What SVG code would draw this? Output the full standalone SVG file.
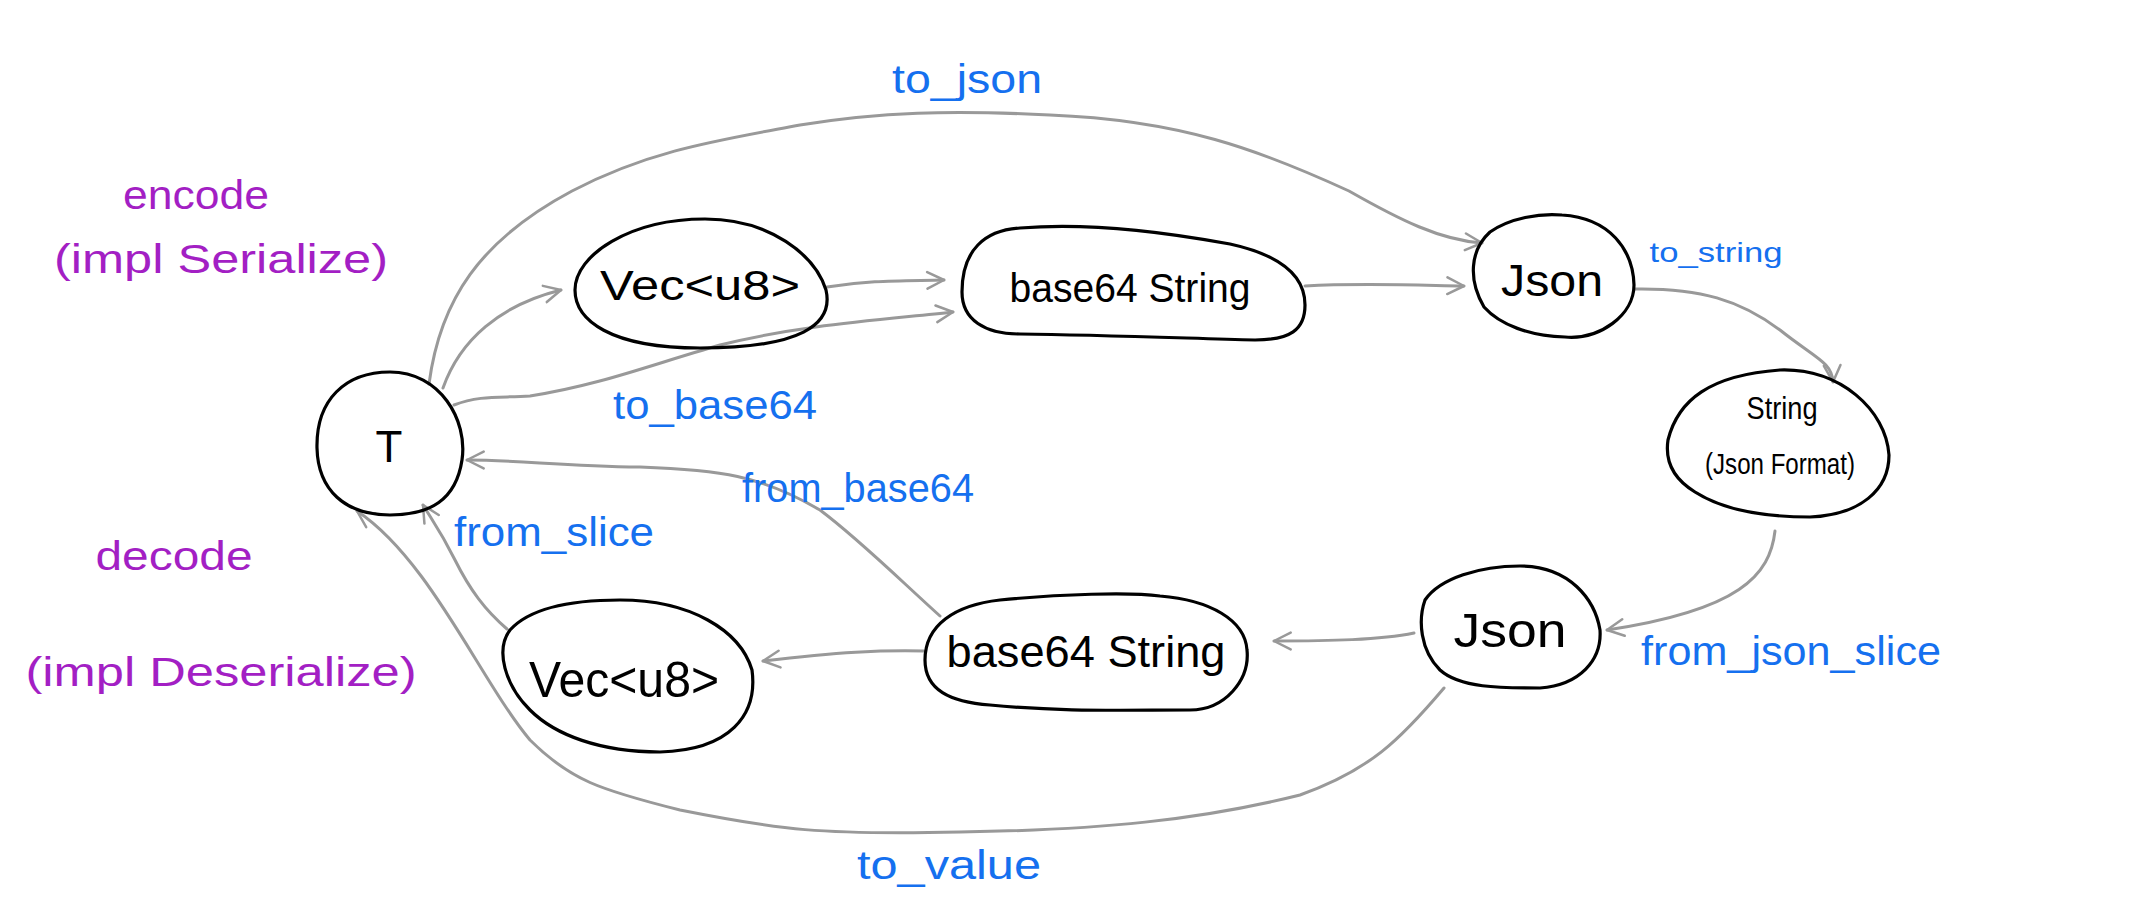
<svg xmlns="http://www.w3.org/2000/svg" width="2136" height="924" viewBox="0 0 2136 924">
<style>
.node{fill:none;stroke:#000;stroke-width:3.2;stroke-linejoin:round}
.nt{font-family:"Liberation Sans",Arial,sans-serif;fill:#000;text-anchor:middle;dominant-baseline:central}
.edge{fill:none;stroke:#999;stroke-width:3;stroke-linecap:round;marker-end:url(#arr)}
.lb{font-family:"Liberation Sans",Arial,sans-serif;fill:#1570ef;text-anchor:middle;dominant-baseline:central}
.pl{font-family:"Liberation Sans",Arial,sans-serif;fill:#a31fc4;text-anchor:middle;dominant-baseline:central}
</style>
<defs>
<marker id="arr" viewBox="0 0 12 12" refX="11" refY="6" markerWidth="20" markerHeight="20" markerUnits="userSpaceOnUse" orient="auto">
<path d="M1,1 L11,6 L1,11" fill="none" stroke="#999" stroke-width="1.5" stroke-linecap="round" stroke-linejoin="round"/>
</marker>
</defs>
<rect width="2136" height="924" fill="#fff"/>

<g id="labels-side">
<text class="pl" x="196" y="195" font-size="40" textLength="146" lengthAdjust="spacingAndGlyphs">encode</text>
<text class="pl" x="221" y="259" font-size="40" textLength="334" lengthAdjust="spacingAndGlyphs">(impl Serialize)</text>
<text class="pl" x="174" y="556" font-size="40" textLength="157" lengthAdjust="spacingAndGlyphs">decode</text>
<text class="pl" x="221" y="672" font-size="40" textLength="391" lengthAdjust="spacingAndGlyphs">(impl Deserialize)</text>
</g>

<g id="connectors">
<path class="edge" d="M429,384 C440,300 480,240 572,191 C650,150 720,140 800,125 C880,112 950,110 1050,115 C1180,120 1260,150 1349,191 C1400,220 1440,240 1482,243"/>
<path class="edge" d="M443,388 C460,340 500,305 561,290"/>
<path class="edge" d="M454,405 C480,395 500,398 530,396 C600,385 650,365 720,345 C800,325 880,320 953,312"/>
<path class="edge" d="M827,287 C870,280 900,281 944,280"/>
<path class="edge" d="M1305,286 C1360,283 1410,285 1464,286"/>
<path class="edge" d="M1635,289 C1700,288 1740,300 1780,330 C1815,358 1832,362 1833,382"/>
<path class="edge" d="M1775,531 C1770,575 1740,610 1607,630"/>
<path class="edge" d="M1414,633 C1380,640 1330,641 1274,641"/>
<path class="edge" d="M924,651 C880,650 840,652 763,661"/>
<path class="edge" d="M940,616 C900,580 860,540 820,510 C760,475 720,470 640,467 C560,466 520,460 467,460"/>
<path class="edge" d="M507,629 C485,610 470,590 455,560 C440,530 432,520 423,505"/>
<path class="edge" d="M1444,688 C1400,740 1370,770 1300,795 C1200,820 1100,830 960,832 C820,835 780,830 680,810 C600,790 570,780 530,740 C480,680 430,560 357,511"/>
</g>

<g id="edge-labels">
<text class="lb" x="967" y="79" font-size="40" textLength="150" lengthAdjust="spacingAndGlyphs">to_json</text>
<text class="lb" x="715" y="405" font-size="40" textLength="204" lengthAdjust="spacingAndGlyphs">to_base64</text>
<text class="lb" x="1716" y="252" font-size="28" textLength="133" lengthAdjust="spacingAndGlyphs">to_string</text>
<text class="lb" x="858" y="488" font-size="40" textLength="232" lengthAdjust="spacingAndGlyphs">from_base64</text>
<text class="lb" x="554" y="532" font-size="40" textLength="200" lengthAdjust="spacingAndGlyphs">from_slice</text>
<text class="lb" x="1791" y="651" font-size="40" textLength="300" lengthAdjust="spacingAndGlyphs">from_json_slice</text>
<text class="lb" x="949" y="865" font-size="40" textLength="184" lengthAdjust="spacingAndGlyphs">to_value</text>
</g>

<g id="node-T">
<path class="node" d="M390,372 C440,372 468,420 462,460 C456,500 430,515 390,515 C345,515 318,490 317,448 C316,400 345,372 390,372 Z"/>
<text class="nt" x="389" y="446" font-size="44">T</text>
</g>

<g id="node-vec-top">
<path class="node" d="M705,219 C770,219 815,255 826,290 C834,325 800,348 700,348 C610,348 575,320 575,290 C575,255 630,219 705,219 Z"/>
<text class="nt" x="700" y="285" font-size="42" textLength="200" lengthAdjust="spacingAndGlyphs">Vec&lt;u8&gt;</text>
</g>

<g id="node-b64-top">
<path class="node" d="M1020,228 C1100,222 1180,235 1230,244 C1280,255 1305,275 1305,305 C1305,330 1290,340 1255,340 C1180,338 1100,335 1020,334 C985,334 962,320 962,292 C962,250 985,230 1020,228 Z"/>
<text class="nt" x="1130" y="288" font-size="40" textLength="241" lengthAdjust="spacingAndGlyphs">base64 String</text>
</g>

<g id="node-json-top">
<path class="node" d="M1562,215 C1610,218 1633,250 1634,285 C1634,315 1600,340 1565,337 C1530,336 1500,325 1484,307 C1468,280 1470,250 1490,232 C1510,218 1540,213 1562,215 Z"/>
<text class="nt" x="1552" y="280" font-size="44" textLength="102" lengthAdjust="spacingAndGlyphs">Json</text>
</g>

<g id="node-string">
<path class="node" d="M1780,370 C1840,368 1886,410 1889,455 C1889,490 1860,515 1810,517 C1760,517 1720,508 1695,492 C1672,478 1665,460 1668,440 C1678,400 1710,375 1780,370 Z"/>
<text class="nt" x="1782" y="408" font-size="32" textLength="71" lengthAdjust="spacingAndGlyphs">String</text>
<text class="nt" x="1780" y="463" font-size="30" textLength="150" lengthAdjust="spacingAndGlyphs">(Json Format)</text>
</g>

<g id="node-json-bottom">
<path class="node" d="M1520,566 C1570,566 1595,600 1600,630 C1602,660 1580,685 1540,688 C1500,688 1460,688 1440,670 C1420,650 1418,620 1425,600 C1440,578 1480,566 1520,566 Z"/>
<text class="nt" x="1510" y="630" font-size="48" textLength="113" lengthAdjust="spacingAndGlyphs">Json</text>
</g>

<g id="node-b64-bottom">
<path class="node" d="M1000,600 C1060,594 1130,592 1160,596 C1210,600 1245,620 1247,650 C1250,680 1225,710 1190,710 C1120,710 1060,712 990,705 C950,702 925,690 925,660 C925,625 955,605 1000,600 Z"/>
<text class="nt" x="1086" y="651" font-size="44" textLength="279" lengthAdjust="spacingAndGlyphs">base64 String</text>
</g>

<g id="node-vec-bottom">
<path class="node" d="M620,600 C690,600 740,630 752,670 C758,715 730,750 660,752 C600,752 555,735 530,710 C505,685 495,650 510,630 C530,608 570,600 620,600 Z"/>
<text class="nt" x="624" y="680" font-size="50" textLength="190" lengthAdjust="spacingAndGlyphs">Vec&lt;u8&gt;</text>
</g>
</svg>
